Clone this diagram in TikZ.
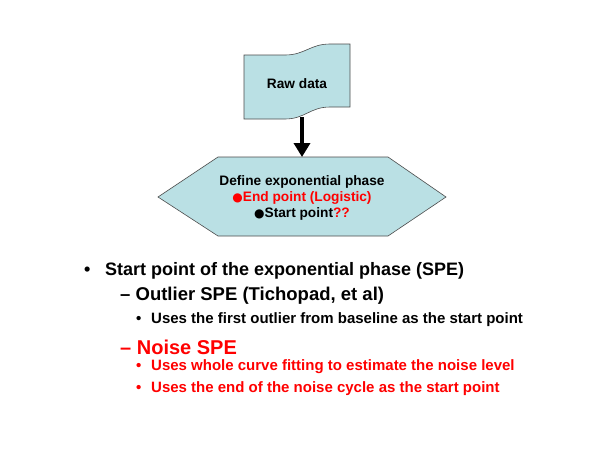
\documentclass[tikz,border=0pt]{standalone}
\usepackage{fontspec}
\usetikzlibrary{arrows.meta}
\setmainfont{Liberation Sans}
\newfontfamily\dvsym{DejaVu Sans}
\definecolor{shapefill}{RGB}{186,224,228}
\definecolor{myred}{RGB}{255,0,0}
\begin{document}
\begin{tikzpicture}[x=1pt,y=-1pt,
  shp/.style={draw=black!70,fill=shapefill,line width=0.6pt},
  lbl/.style={font=\bfseries\fontsize{13.7}{16}\selectfont,align=center,inner sep=0pt},
  lvl/.style={anchor=west,inner sep=0pt,font=\bfseries\fontsize{#1}{#1}\selectfont}]
\useasboundingbox (0,0) rectangle (600,464);
\fill[white] (0,0) rectangle (600,464);
% flag
\draw[shp] (244,55) -- (285,55) .. controls (305,55) and (310,44) .. (330,44) -- (350,44)
  -- (350,107) -- (330,107) .. controls (310,107) and (305,119) .. (285,119) -- (244,119) -- cycle;
\node[lbl] (raw) at (297,84) {Raw data};
\coordinate (flagbot) at (302,117);
% hexagon
\draw[shp] (158,197) -- (218,157) -- (388,157) -- (446,197) -- (388,236) -- (218,236) -- cycle;
\coordinate (hextop) at (302,157);
\node[lbl] (def) at (302,198) {Define exponential phase\\
  \textcolor{myred}{{\dvsym\fontsize{12}{12}\selectfont●}End point (Logistic)}\\
  {\dvsym\fontsize{12}{12}\selectfont●}Start point\textcolor{myred}{??}};
\draw[line width=4pt,-{Triangle[width=16pt,length=14pt]}] (flagbot) -- (hextop);
% bullets
\node[lvl=18] (b1) at (84,271) {•};
\node[lvl=18] (t1) at (105,271) {Start point of the exponential phase (SPE)};
\node[lvl=18.5] (t2) at (120,296) {– Outlier SPE (Tichopad, et al)};
\node[lvl=15] (b3) at (136,320) {•};
\node[lvl=15] (t3) at (151,320) {Uses the first outlier from baseline as the start point};
\node[lvl=20,text=myred] (t4) at (120,347) {– Noise SPE};
\node[lvl=15,text=myred] (b5) at (136,367) {•};
\node[lvl=15,text=myred] (t5) at (151,367) {Uses whole curve fitting to estimate the noise level};
\node[lvl=15,text=myred] (b6) at (136,389) {•};
\node[lvl=15,text=myred] (t6) at (151,389) {Uses the end of the noise cycle as the start point};
\end{tikzpicture}
\end{document}
